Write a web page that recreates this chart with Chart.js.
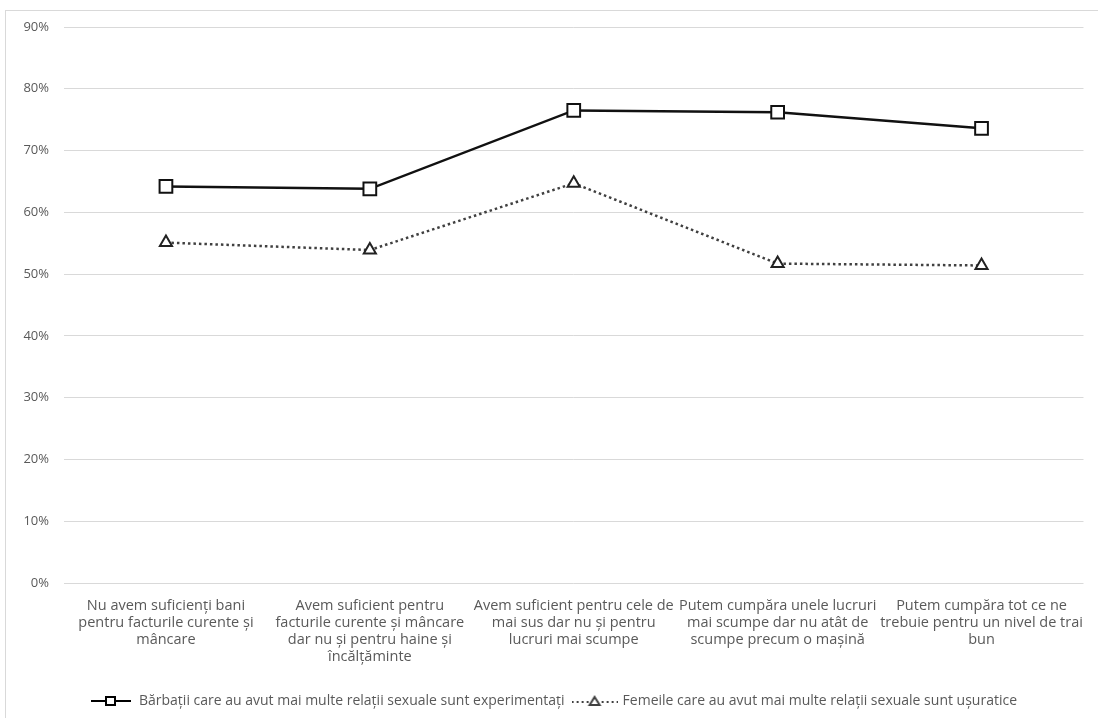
<!DOCTYPE html>
<html>
<head>
<meta charset="utf-8">
<style>
  html, body { margin: 0; padding: 0; background: #fff; }
  #wrap { width: 1098px; height: 718px; }
</style>
<script src="https://cdn.jsdelivr.net/npm/chart.js@4.4.1/dist/chart.umd.min.js"></script>
</head>
<body>
<div id="wrap"><canvas id="chart" width="1098" height="718"></canvas></div>
<script>
// categorii (axa X), fiecare eticheta pe mai multe randuri
const categories = [
  ['Nu avem suficienți bani', 'pentru facturile curente și', 'mâncare'],
  ['Avem suficient pentru', 'facturile curente și mâncare', 'dar nu și pentru haine și', 'încălțăminte'],
  ['Avem suficient pentru cele de', 'mai sus dar nu și pentru', 'lucruri mai scumpe'],
  ['Putem cumpăra unele lucruri', 'mai scumpe dar nu atât de', 'scumpe precum o mașină'],
  ['Putem cumpăra tot ce ne', 'trebuie pentru un nivel de trai', 'bun']
];
const seriesNames = [
  'Bărbații care au avut mai multe relații sexuale sunt experimentați',
  'Femeile care au avut mai multe relații sexuale sunt ușuratice'
];
const barbati = [64.2, 63.8, 76.5, 76.2, 73.6];
const femei = [55.1, 53.9, 64.7, 51.7, 51.4];
const yTicks = [0, 10, 20, 30, 40, 50, 60, 70, 80, 90];

const GREY_TEXT = '#595959';
const FONT = "'Open Sans', 'Liberation Sans', sans-serif";

// simbol mic pentru legenda: linie + marker
function legendSymbol(kind) {
  const c = document.createElement('canvas');
  c.width = kind === 'square' ? 40 : 46;
  c.height = 14;
  const g = c.getContext('2d');
  g.lineWidth = 2;
  if (kind === 'square') {
    g.strokeStyle = '#000';
    g.beginPath(); g.moveTo(0, 7); g.lineTo(40, 7); g.stroke();
    g.fillStyle = '#fff';
    g.fillRect(15, 3, 9, 8);
    g.strokeRect(15, 3, 9, 8);
  } else {
    g.strokeStyle = '#404040';
    g.setLineDash([2, 3]);
    g.beginPath(); g.moveTo(0, 8); g.lineTo(46, 8); g.stroke();
    g.setLineDash([]);
    g.fillStyle = '#fff';
    g.beginPath(); g.moveTo(23, 3); g.lineTo(28, 11); g.lineTo(18, 11); g.closePath();
    g.fill(); g.stroke();
  }
  return c;
}
const symbols = [legendSymbol('square'), legendSymbol('triangle')];

// chenar in jurul graficului
const framePlugin = {
  id: 'frame',
  beforeDraw(chart) {
    const ctx = chart.ctx;
    ctx.save();
    ctx.fillStyle = '#fff';
    ctx.fillRect(0, 0, chart.width, chart.height);
    ctx.strokeStyle = '#d9d9d9';
    ctx.lineWidth = 1;
    ctx.strokeRect(5.5, 10.5, chart.width - 5, chart.height - 10);
    ctx.restore();
  }
};

new Chart(document.getElementById('chart'), {
  type: 'line',
  data: {
    labels: categories,
    datasets: [
      {
        label: seriesNames[0],
        data: barbati,
        borderColor: '#111',
        borderWidth: 2.5,
        pointStyle: 'rect',
        pointRadius: 9,
        pointBorderWidth: 2,
        pointBackgroundColor: '#fff',
        pointBorderColor: '#111',
        tension: 0
      },
      {
        label: seriesNames[1],
        data: femei,
        borderColor: '#404040',
        borderWidth: 2.5,
        borderDash: [2.5, 3],
        pointStyle: 'triangle',
        pointRadius: 7,
        pointBorderWidth: 2,
        pointBackgroundColor: '#fff',
        pointBorderColor: '#222',
        tension: 0
      }
    ]
  },
  options: {
    responsive: false,
    animation: false,
    layout: { padding: { left: 18, right: 9, top: 27, bottom: 0 } },
    scales: {
      x: {
        offset: true,
        grid: { display: false, drawTicks: false },
        border: { display: false },
        ticks: {
          color: GREY_TEXT,
          font: { family: FONT, size: 14.5, lineHeight: 1.17 },
          padding: 14,
          maxRotation: 0,
          autoSkip: false
        },
        afterFit(scale) { scale.height = 102; }
      },
      y: {
        min: 0,
        max: 90,
        afterBuildTicks(scale) { scale.ticks = yTicks.map(v => ({ value: v })); },
        grid: { color: '#d9d9d9', lineWidth: 1, drawTicks: false },
        border: { display: false },
        ticks: {
          color: GREY_TEXT,
          font: { family: FONT, size: 13 },
          padding: 15,
          callback: v => v + '%'
        },
        afterFit(scale) { scale.width = 46; }
      }
    },
    plugins: {
      legend: {
        position: 'bottom',
        labels: {
          usePointStyle: true,
          pointStyleWidth: 42,
          color: GREY_TEXT,
          font: { family: FONT, size: 14 },
          padding: 9,
          generateLabels(chart) {
            return chart.data.datasets.map((ds, i) => ({
              text: ds.label,
              pointStyle: symbols[i],
              fontColor: GREY_TEXT,
              datasetIndex: i,
              hidden: false,
              lineWidth: 0
            }));
          }
        }
      },
      tooltip: { enabled: false }
    }
  },
  plugins: [framePlugin]
});
</script>
</body>
</html>
